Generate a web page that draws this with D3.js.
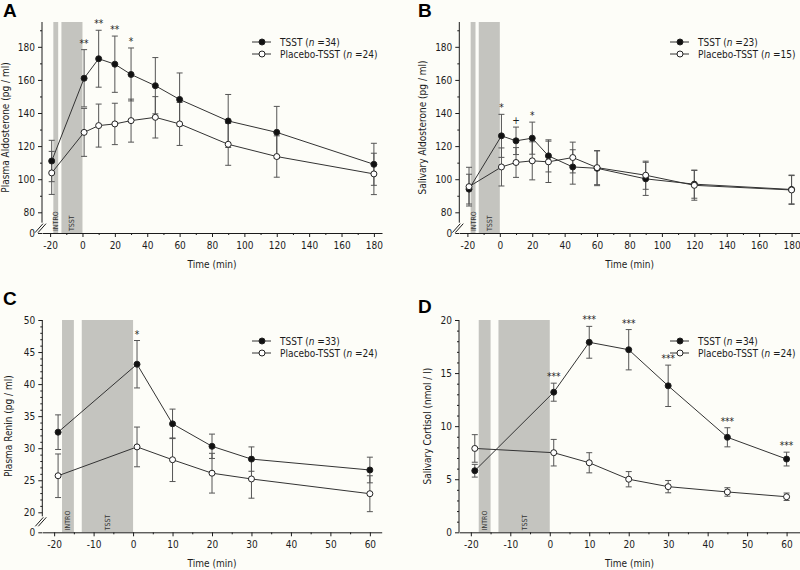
<!DOCTYPE html>
<html>
<head>
<meta charset="utf-8">
<script src="https://cdn.jsdelivr.net/npm/d3@7"></script>
<style>
  body { margin: 0; background: #fdfdf8; }
  svg { display: block; font-family: "DejaVu Sans Condensed", "DejaVu Sans", sans-serif; }
</style>
</head>
<body>
<div id="chart"></div>
<script>
// phases shaded in every panel
const phaseLabels = ['INTRO', 'TSST'];
const phaseStart = [-18, -13];
const phaseEnd = [-15, 0];

// A - plasma aldosterone
const timesAB = [-19, 1, 10, 20, 30, 45, 60, 90, 120, 180];
const aTsst = [111, 161, 172.8, 169.5, 163.3, 156.5, 148.2, 135.2, 128.3, 109];
const aTsstErr = [12.5, 17.3, 17.2, 17, 16, 17, 16, 16, 15.7, 12.7];
const aPlac = [103.8, 128.3, 132.4, 133.4, 135.4, 137.4, 133.4, 121.1, 113.7, 103.2];
const aPlacErr = [13, 14.5, 13, 12.5, 13, 12.5, 13, 12.7, 12.5, 12.5];
const aSig = ['', '**', '**', '**', '*', '', '', '', '', ''];

// B - salivary aldosterone
const bTsst = [94, 126.2, 123.2, 124.8, 114.1, 107.4, 106.6, 100.2, 97, 93.8];
const bTsstErr = [9, 13, 8.3, 9.7, 9.7, 10.4, 10.5, 10, 8.5, 8.7];
const bPlac = [95.5, 107.4, 110.1, 111.1, 110.5, 113.1, 107, 102.4, 96.3, 93.5];
const bPlacErr = [11.7, 11.5, 9, 11.5, 12.5, 9.3, 10.3, 8.5, 9, 8.7];
const bSig = ['', '*', '+', '*', '', '', '', '', '', ''];

// C - plasma renin
const timesC = [-19, 1, 10, 20, 30, 60];
const cTsst = [32.5, 43.1, 33.8, 30.3, 28.3, 26.6];
const cTsstErr = [2.7, 3.7, 2.3, 1.9, 1.9, 2];
const cPlac = [25.7, 30.2, 28.2, 26.1, 25.2, 22.9];
const cPlacErr = [3.4, 3.1, 3.4, 3.1, 3, 2.8];
const cSig = ['', '*', '', '', '', ''];

// D - salivary cortisol
const timesD = [-19, 1, 10, 20, 30, 45, 60];
const dTsst = [5.8, 13.2, 17.9, 17.2, 13.8, 8.95, 6.9];
const dTsstErr = [0.6, 0.85, 1.5, 1.9, 1.95, 0.9, 0.65];
const dPlac = [7.9, 7.5, 6.55, 5, 4.3, 3.8, 3.35];
const dPlacErr = [1.3, 1.25, 0.95, 0.72, 0.58, 0.4, 0.35];
const dSig = ['', '***', '***', '***', '***', '***', '***'];

const width = 800;
const height = 570;
const ink = '#1c1c1c';
const barColor = '#555';
const bg = '#fdfdf8';

const svg = d3.select('#chart').append('svg')
    .attr('width', width)
    .attr('height', height);

svg.append('rect').attr('width', width).attr('height', height).attr('fill', bg);

const phases = phaseLabels.map((l, i) => ({label: l, start: phaseStart[i], end: phaseEnd[i]}));

const panels = [
  {letter: 'A', letterX: 3, letterY: 17, left: 42, right: 382, top: 22, bottom: 233,
   xDomain: [-25, 185], xTicks: d3.range(-20, 181, 20), xMinor: d3.range(-10, 171, 20),
   yDomain: [0, 80, 195], yBreak: 20.7, yTicks: [0, 80, 100, 120, 140, 160, 180], yMinor: d3.range(90, 191, 20),
   axisStop: 40, yTitle: 'Plasma Aldosterone (pg / ml)', titleX: 9,
   legendX: 252, legendY: 42, nT: 34, nP: 24,
   times: timesAB, tsst: aTsst, tsstErr: aTsstErr, plac: aPlac, placErr: aPlacErr, sig: aSig},
  {letter: 'B', letterX: 418, letterY: 17, left: 459.3, right: 800, top: 22, bottom: 233,
   xDomain: [-25, 185.2], xTicks: d3.range(-20, 181, 20), xMinor: d3.range(-10, 171, 20),
   yDomain: [0, 80, 195], yBreak: 20.7, yTicks: [0, 80, 100, 120, 140, 160, 180], yMinor: d3.range(90, 191, 20),
   axisStop: 40, yTitle: 'Salivary Aldosterone (pg / ml)', titleX: 426,
   legendX: 670, legendY: 42, nT: 23, nP: 15,
   times: timesAB, tsst: bTsst, tsstErr: bTsstErr, plac: bPlac, placErr: bPlacErr, sig: bSig},
  {letter: 'C', letterX: 3, letterY: 305, left: 42.3, right: 381.7, top: 320, bottom: 532.3,
   xDomain: [-23, 63], xTicks: d3.range(-20, 61, 10), xMinor: d3.range(-15, 56, 10),
   yDomain: [0, 20, 50], yBreak: 20, yTicks: [0, 20, 25, 30, 35, 40, 45, 50],
   yMinor: d3.range(21, 50).filter(v => v % 5 !== 0),
   axisStop: 16, yTitle: 'Plasma Renin (pg / ml)', titleX: 12,
   legendX: 252, legendY: 341, nT: 33, nP: 24,
   times: timesC, tsst: cTsst, tsstErr: cTsstErr, plac: cPlac, placErr: cPlacErr, sig: cSig},
  {letter: 'D', letterX: 418, letterY: 313, left: 459, right: 800, top: 320, bottom: 532.3,
   xDomain: [-23, 63.4], xTicks: d3.range(-20, 61, 10), xMinor: d3.range(-15, 56, 10),
   yDomain: [0, 20], yBreak: null, yTicks: [0, 5, 10, 15, 20],
   yMinor: d3.range(1, 20).filter(v => v % 5 !== 0),
   axisStop: null, yTitle: 'Salivary Cortisol (nmol / l)', titleX: 431,
   legendX: 670, legendY: 341, nT: 34, nP: 24,
   times: timesD, tsst: dTsst, tsstErr: dTsstErr, plac: dPlac, placErr: dPlacErr, sig: dSig}
];

panels.forEach(drawPanel);

function drawPanel(p) {
  const x = d3.scaleLinear().domain(p.xDomain).range([p.left, p.right]);
  const yRange = p.yBreak === null ? [p.bottom, p.top] : [p.bottom, p.bottom - p.yBreak, p.top];
  const y = d3.scaleLinear().domain(p.yDomain).range(yRange);
  const yMax = p.yDomain[p.yDomain.length - 1];

  const g = svg.append('g');

  // shaded phases
  g.selectAll('.band').data(phases).enter()
    .append('rect')
      .attr('class', 'band')
      .attr('x', d => x(d.start))
      .attr('width', d => x(d.end) - x(d.start))
      .attr('y', y(yMax))
      .attr('height', p.bottom - y(yMax))
      .attr('fill', '#c4c4bf');

  g.selectAll('.phase').data(phases).enter()
    .append('text')
      .attr('class', 'phase')
      .attr('transform', d => `translate(${x((d.start + d.end) / 2) + 2.5},${p.bottom - 2}) rotate(-90)`)
      .attr('font-size', 7)
      .attr('fill', '#333')
      .text(d => d.label);

  // x axis
  const fmt = d => String(d);
  const xAx = g.append('g')
      .attr('transform', `translate(0,${p.bottom})`)
      .call(d3.axisBottom(x).tickValues(p.xTicks).tickFormat(fmt).tickSize(4).tickSizeOuter(0).tickPadding(5));
  g.append('g')
      .attr('transform', `translate(0,${p.bottom})`)
      .call(d3.axisBottom(x).tickValues(p.xMinor).tickFormat('').tickSize(2).tickSizeOuter(0))
      .call(a => a.select('.domain').remove());

  // y axis (with a break between 0 and the first labelled value)
  const yAx = g.append('g')
      .attr('transform', `translate(${p.left},0)`)
      .call(d3.axisLeft(y).tickValues(p.yTicks).tickFormat(fmt).tickSize(4).tickSizeOuter(0).tickPadding(3));
  yAx.select('.domain').remove();
  g.append('g')
      .attr('transform', `translate(${p.left},0)`)
      .call(d3.axisLeft(y).tickValues(p.yMinor).tickFormat('').tickSize(2).tickSizeOuter(0))
      .call(a => a.select('.domain').remove());

  const stopY = p.axisStop === null ? p.bottom : y(p.axisStop);
  g.append('line')
      .attr('x1', p.left).attr('x2', p.left)
      .attr('y1', y(yMax)).attr('y2', stopY)
      .attr('stroke', ink);

  if (p.axisStop !== null) {
    [0, 3].forEach(dx => {
      g.append('line')
          .attr('x1', p.left - 7 + dx).attr('y1', stopY + 10)
          .attr('x2', p.left + 1 + dx).attr('y2', stopY + 1)
          .attr('stroke', ink);
    });
  }

  [xAx, yAx].forEach(a => {
    a.selectAll('line, path').attr('stroke', ink);
    a.selectAll('text').attr('fill', ink).attr('font-size', 10)
        .attr('font-family', '"DejaVu Sans Condensed", "DejaVu Sans", sans-serif');
  });
  g.selectAll('.tick line').attr('stroke', ink);

  // titles
  g.append('text')
      .attr('x', (p.left + p.right) / 2)
      .attr('y', p.bottom + 35)
      .attr('text-anchor', 'middle')
      .attr('font-size', 10)
      .attr('fill', ink)
      .text('Time (min)');

  g.append('text')
      .attr('transform', `translate(${p.titleX},${(p.top + p.bottom) / 2}) rotate(-90)`)
      .attr('text-anchor', 'middle')
      .attr('font-size', 10)
      .attr('fill', ink)
      .text(p.yTitle);

  g.append('text')
      .attr('x', p.letterX)
      .attr('y', p.letterY)
      .attr('font-family', '"Liberation Sans", Arial, sans-serif')
      .attr('font-weight', 'bold')
      .attr('font-size', 19)
      .attr('fill', '#000')
      .text(p.letter);

  // series
  const series = [
    {key: 'tsst', values: p.tsst, errs: p.tsstErr, fill: '#111'},
    {key: 'plac', values: p.plac, errs: p.placErr, fill: '#fff'}
  ].map(s => ({...s, pts: p.times.map((t, i) => ({t: t, v: s.values[i], e: s.errs[i]}))}));

  series.forEach(s => {
    const eb = g.selectAll('.eb-' + s.key).data(s.pts).enter().append('g');
    eb.append('line')
        .attr('x1', d => x(d.t)).attr('x2', d => x(d.t))
        .attr('y1', d => y(d.v - d.e)).attr('y2', d => y(d.v + d.e))
        .attr('stroke', barColor);
    [-1, 1].forEach(sign => {
      eb.append('line')
          .attr('x1', d => x(d.t) - 3).attr('x2', d => x(d.t) + 3)
          .attr('y1', d => y(d.v + sign * d.e)).attr('y2', d => y(d.v + sign * d.e))
          .attr('stroke', barColor);
    });
  });

  const line = d3.line().x(d => x(d.t)).y(d => y(d.v));
  series.forEach(s => {
    g.append('path')
        .datum(s.pts)
        .attr('d', line)
        .attr('fill', 'none')
        .attr('stroke', '#333')
        .attr('stroke-width', 1);
  });
  series.forEach(s => {
    g.selectAll('.pt-' + s.key).data(s.pts).enter()
      .append('circle')
        .attr('cx', d => x(d.t))
        .attr('cy', d => y(d.v))
        .attr('r', 3)
        .attr('fill', s.fill)
        .attr('stroke', '#222');
  });

  // significance marks
  g.selectAll('.sig').data(series[0].pts.map((d, i) => ({...d, s: p.sig[i]})).filter(d => d.s)).enter()
    .append('text')
      .attr('x', d => x(d.t))
      .attr('y', d => y(d.v + d.e) - 3)
      .attr('text-anchor', 'middle')
      .attr('font-size', 10)
      .attr('fill', ink)
      .text(d => d.s);

  // legend
  const leg = g.append('g').attr('transform', `translate(${p.legendX},${p.legendY})`);
  const legRows = [
    {name: 'TSST', n: p.nT, fill: '#111'},
    {name: 'Placebo-TSST', n: p.nP, fill: '#fff'}
  ];
  legRows.forEach((r, i) => {
    const row = leg.append('g').attr('transform', `translate(0,${i * 12})`);
    row.append('line').attr('x1', 0).attr('x2', 19).attr('stroke', '#333');
    row.append('circle').attr('cx', 10).attr('r', 3).attr('fill', r.fill).attr('stroke', '#222');
    const t = row.append('text').attr('x', 28).attr('y', 3.5).attr('font-size', 10).attr('fill', ink);
    t.append('tspan').text(r.name + ' (');
    t.append('tspan').attr('font-style', 'italic').text('n');
    t.append('tspan').text(' =' + r.n + ')');
  });
}
</script>
</body>
</html>
